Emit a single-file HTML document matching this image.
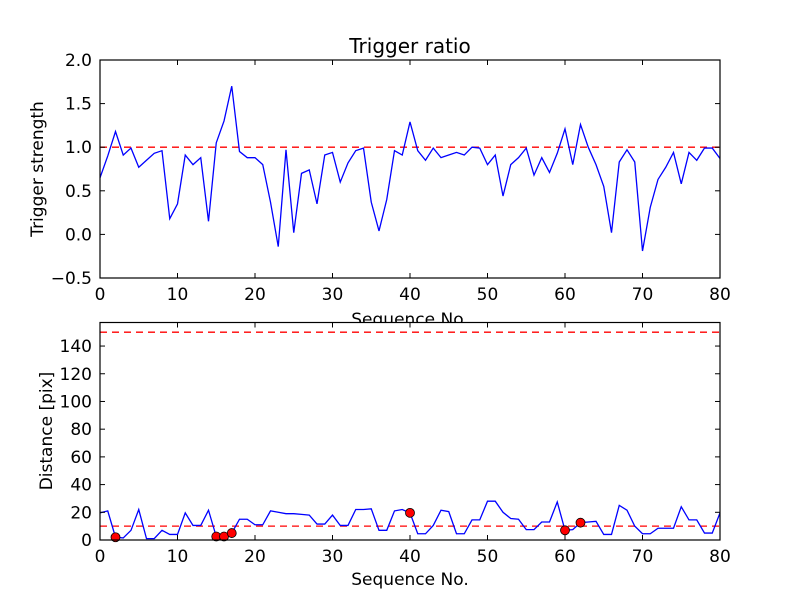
<!DOCTYPE html>
<html><head><meta charset="utf-8"><style>
body{margin:0;background:#fff}
svg text{font-family:"DejaVu Sans","Liberation Sans",sans-serif;fill:#000}
</style></head><body>
<svg id="c" width="800" height="600" viewBox="0 0 800 600"></svg>
<script>
const seq = Array.from({length:81},(_,i)=>i);
const ratio = [0.65,0.9,1.18,0.91,0.99,0.77,0.85,0.93,0.96,0.18,0.35,0.91,0.8,0.88,0.15,1.05,1.3,1.7,0.95,0.88,0.88,0.8,0.37,-0.14,0.97,0.02,0.7,0.74,0.35,0.91,0.94,0.6,0.82,0.96,0.99,0.37,0.04,0.4,0.96,0.91,1.29,0.96,0.85,0.99,0.88,0.91,0.94,0.91,1.0,0.99,0.8,0.91,0.44,0.8,0.88,0.99,0.68,0.88,0.71,0.93,1.21,0.8,1.26,1.0,0.8,0.55,0.02,0.83,0.97,0.83,-0.19,0.31,0.63,0.77,0.94,0.58,0.94,0.85,0.99,0.99,0.87];
const dist = [19.6,21,2,1.5,7,22,1,1,7,4,4,19.6,10.5,10.5,21.5,2.5,2.5,5,15,15,11,11,21,20,19,19,18.5,18,11.5,11.5,18,10.5,10.5,22,22,22.5,7,7,21,22,19.6,4.5,4.5,10.5,21.5,20.5,4.5,4.5,14.5,14.5,28,28,20,15.5,15,7.5,7.5,13,13,27.5,7,7.5,12.5,13,13.5,4,4,25,21.5,10,4.5,4.5,8.5,8.5,8.5,24,14.5,14.5,5,5,19.6];
const ratioThreshold = 1.0;
const distThresholds = [10,150];
const xTicks = [0,10,20,30,40,50,60,70,80];
const yTicksTop = [-0.5,0,0.5,1.0,1.5,2.0];
const yTicksBot = [0,20,40,60,80,100,120,140];

const NS="http://www.w3.org/2000/svg";
const svg=document.getElementById('c');
function el(tag,attrs,parent){const e=document.createElementNS(NS,tag);for(const k in attrs)e.setAttribute(k,attrs[k]);(parent||svg).appendChild(e);return e;}
const X0=100,X1=720;
const sx=v=>X0+(v-0)/(80-0)*(X1-X0);
const T0=60,T1=278, sy1=v=>T1-(v+0.5)/2.5*(T1-T0);
const B0=322.5,B1=540, bMax=157, sy2=v=>B1-v/bMax*(B1-B0);
const FS=17;

let g=el('g',{});  
let t=el('text',{x:410,y:53,'font-size':20,'text-anchor':'middle'},g); t.textContent='Trigger ratio';
 
let r=el('line',{x1:X0,x2:X1,y1:sy1(ratioThreshold),y2:sy1(ratioThreshold),stroke:'#f00','stroke-width':1.3,'stroke-dasharray':'7,5'},g);
 
let p=el('polyline',{points:ratio.map((v,i)=>sx(seq[i])+','+sy1(v)).join(' '),fill:'none',stroke:'#00f','stroke-width':1.3},g);
 
let f=el('rect',{x:X0,y:T0,width:X1-X0,height:T1-T0,fill:'none',stroke:'#000','stroke-width':1.2},g);
 
xTicks.forEach(v=>{const x=sx(v);
 el('line',{x1:x,x2:x,y1:T1,y2:T1-5,stroke:'#000'},g);el('line',{x1:x,x2:x,y1:T0,y2:T0+5,stroke:'#000'},g);
 const l=el('text',{x:x,y:T1+22,'font-size':FS,'text-anchor':'middle'},g);l.textContent=v;
  });
yTicksTop.forEach(v=>{const y=sy1(v);
 el('line',{x1:X0,x2:X0+5,y1:y,y2:y,stroke:'#000'},g);el('line',{x1:X1,x2:X1-5,y1:y,y2:y,stroke:'#000'},g);
 const l=el('text',{x:X0-8,y:y+6,'font-size':FS,'text-anchor':'end'},g);l.textContent=(v<0?'\u2212':'')+Math.abs(v).toFixed(1);
  });
t=el('text',{x:0,y:0,'font-size':FS,'text-anchor':'middle',transform:'translate(43,169) rotate(-90)'},g);t.textContent='Trigger strength';
 
t=el('text',{x:410,y:325,'font-size':FS,'text-anchor':'middle'},g);t.textContent='Sequence No.';
 

g=el('g',{});  
el('rect',{x:X0,y:B0,width:X1-X0,height:B1-B0,fill:'#fff'},g);
distThresholds.forEach(v=>{const l=el('line',{x1:X0,x2:X1,y1:sy2(v),y2:sy2(v),stroke:'#f00','stroke-width':1.3,'stroke-dasharray':'7,5'},g);
  });
p=el('polyline',{points:dist.map((v,i)=>sx(seq[i])+','+sy2(v)).join(' '),fill:'none',stroke:'#00f','stroke-width':1.3},g);
 
ratio.forEach((v,i)=>{if(v>ratioThreshold){const c=el('circle',{cx:sx(seq[i]),cy:sy2(dist[i]),r:4.5,fill:'#f00',stroke:'#000','stroke-width':0.8},g);
  }});
f=el('rect',{x:X0,y:B0,width:X1-X0,height:B1-B0,fill:'none',stroke:'#000','stroke-width':1.2},g);
 
xTicks.forEach(v=>{const x=sx(v);
 el('line',{x1:x,x2:x,y1:B1,y2:B1-5,stroke:'#000'},g);el('line',{x1:x,x2:x,y1:B0,y2:B0+5,stroke:'#000'},g);
 const l=el('text',{x:x,y:B1+22,'font-size':FS,'text-anchor':'middle'},g);l.textContent=v;
  });
yTicksBot.forEach(v=>{const y=sy2(v);
 el('line',{x1:X0,x2:X0+5,y1:y,y2:y,stroke:'#000'},g);el('line',{x1:X1,x2:X1-5,y1:y,y2:y,stroke:'#000'},g);
 const l=el('text',{x:X0-8,y:y+6,'font-size':FS,'text-anchor':'end'},g);l.textContent=v;
  });
t=el('text',{x:0,y:0,'font-size':FS,'text-anchor':'middle',transform:'translate(52,431) rotate(-90)'},g);t.textContent='Distance [pix]';
 
t=el('text',{x:410,y:585,'font-size':FS,'text-anchor':'middle'},g);t.textContent='Sequence No.';
 
</script>
</body></html>
